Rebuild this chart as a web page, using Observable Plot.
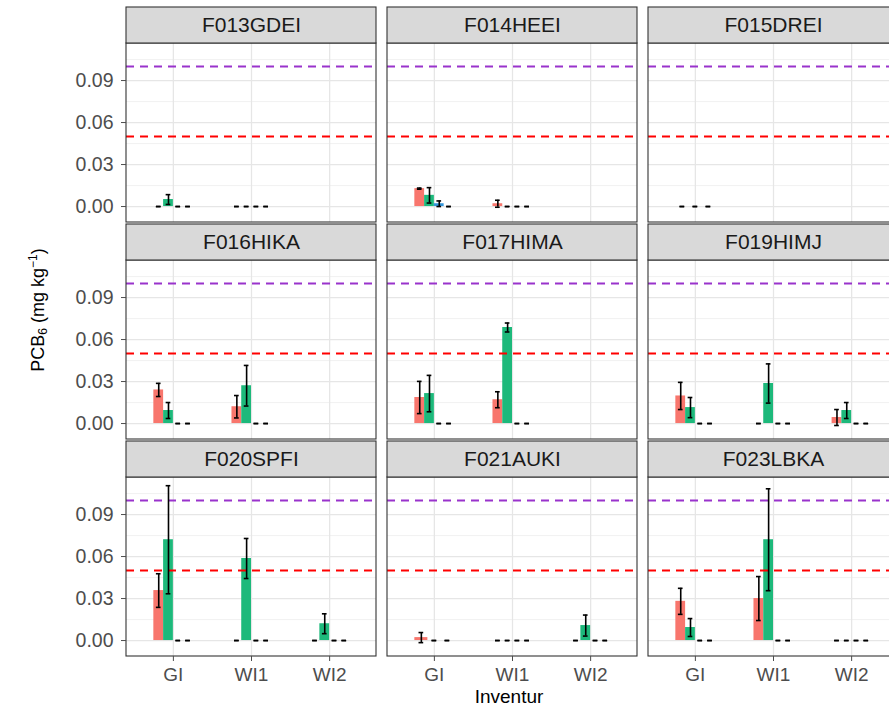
<!DOCTYPE html>
<html>
<head>
<meta charset="utf-8">
<script src="https://cdn.jsdelivr.net/npm/d3@7"></script>
<script src="https://cdn.jsdelivr.net/npm/@observablehq/plot@0.6"></script>
<style>
  html, body { margin: 0; padding: 0; background: #fff; }
  body { width: 889px; height: 712px; overflow: hidden; position: relative; font-family: "Liberation Sans", Arial, sans-serif; }
  #chart { position: absolute; left: 0; top: 0; width: 910px; }
  #chart svg { max-width: none !important; }
  #ytitle { position: absolute; left: 38px; top: 310px; transform: translate(-50%, -50%) rotate(-90deg); font-size: 18px; color: #000; white-space: nowrap; }
  #ytitle sub { font-size: 12px; vertical-align: -3px; }
  #ytitle sup { font-size: 12px; vertical-align: 7px; }
  #xtitle { position: absolute; left: 509px; top: 697px; transform: translate(-50%, -50%); font-size: 19px; color: #000; white-space: nowrap; }
</style>
</head>
<body>
<div id="chart"></div>
<div id="ytitle">PCB<sub>6</sub> (mg kg<sup>−1</sup>)</div>
<div id="xtitle">Inventur</div>
<script>
// ---- data ----
const panels = ["F013GDEI", "F014HEEI", "F015DREI", "F016HIKA", "F017HIMA", "F019HIMJ", "F020SPFI", "F021AUKI", "F023LBKA"];
const inventur = ["GI", "WI1", "WI2"];
const groups = ["Gruppe 1", "Gruppe 2", "Gruppe 3", "Gruppe 4"];
const groupColors = ["#F8766D", "#1DB97B", "#3396DB", "#B565E0"];
const yTicks = [0, 0.03, 0.06, 0.09];
const yMinorTicks = [0.015, 0.045, 0.075, 0.105];
const thresholds = [0.05, 0.1];
const thresholdColors = ["#FF0000", "#9933CC"];

// values per panel (rows) x inventur GI, WI1, WI2 ; null = no data
const meanG1 = [
  0, 0, null,            // F013GDEI
  0.0128, 0.002, null,   // F014HEEI
  0, null, null,         // F015DREI
  0.024, 0.012, null,    // F016HIKA
  0.0186, 0.017, null,   // F017HIMA
  0.0197, 0, 0.0043,     // F019HIMJ
  0.0357, 0, 0,          // F020SPFI
  0.0021, 0, 0,          // F021AUKI
  0.028, 0.03, 0         // F023LBKA
];
const sdG1 = [
  0, 0, null,
  0.0004, 0.0025, null,
  0, null, null,
  0.0047, 0.008, null,
  0.0115, 0.0057, null,
  0.0097, 0, 0.0057,
  0.012, 0, 0,
  0.0036, 0, 0,
  0.0093, 0.0157, 0
];
const meanG2 = [
  0.005, 0, null,
  0.008, 0, null,
  0, null, null,
  0.0093, 0.027, null,
  0.0214, 0.0686, null,
  0.0114, 0.0286, 0.0093,
  0.072, 0.0586, 0.012,
  0, 0, 0.0107,
  0.0093, 0.072, 0
];
const sdG2 = [
  0.0035, 0, null,
  0.0055, 0, null,
  0, null, null,
  0.0057, 0.0145, null,
  0.013, 0.0032, null,
  0.0072, 0.014, 0.0057,
  0.0386, 0.0143, 0.0071,
  0, 0, 0.0075,
  0.0064, 0.0364, 0
];
const meanG3 = [
  0, 0, null,
  0.002, 0, null,
  0, null, null,
  0, 0, null,
  0, 0, null,
  0, 0, 0,
  0, 0, 0,
  0, 0, 0,
  0, 0, 0
];
const sdG3 = [
  0, 0, null,
  0.002, 0, null,
  0, null, null,
  0, 0, null,
  0, 0, null,
  0, 0, 0,
  0, 0, 0,
  0, 0, 0,
  0, 0, 0
];
const meanG4 = [
  0, 0, null,
  0, 0, null,
  null, null, null,
  0, 0, null,
  0, 0, null,
  0, 0, 0,
  0, 0, 0,
  null, 0, 0,
  0, 0, 0
];
const sdG4 = [
  0, 0, null,
  0, 0, null,
  null, null, null,
  0, 0, null,
  0, 0, null,
  0, 0, 0,
  0, 0, 0,
  null, 0, 0,
  0, 0, 0
];

// ---- layout constants (scale domains) ----
const pxPerUnit = 1400;
const yMin = -0.0114;
const panelTop = yMin + 179 / pxPerUnit;
const stripTop = yMin + 215 / pxPerUnit;
const dodgeWidth = 0.5;
const capHalf = 0.03;

// ---- build table ----
const means = [meanG1, meanG2, meanG3, meanG4];
const sds = [sdG1, sdG2, sdG3, sdG4];
const rows = [];
panels.forEach((p, pi) => {
  inventur.forEach((inv, k) => {
    const idx = pi * 3 + k;
    const present = groups.map((g, gi) => gi).filter(gi => means[gi][idx] != null);
    const n = present.length;
    present.forEach((gi, j) => {
      const x1 = k - dodgeWidth / 2 + j * dodgeWidth / n;
      const x2 = x1 + dodgeWidth / n;
      const m = means[gi][idx], s = sds[gi][idx];
      rows.push({panel: p, col: pi % 3, row: Math.floor(pi / 3), inv, group: groups[gi],
        x1, x2, xc: (x1 + x2) / 2, mean: m, lo: m - s, hi: m + s});
    });
  });
});
const strips = panels.map((p, i) => ({panel: p, col: i % 3, row: Math.floor(i / 3)}));

const chart = Plot.plot({
  width: 910,
  height: 712,
  marginLeft: 126,
  marginRight: 12,
  marginTop: 7,
  marginBottom: 56,
  style: {fontFamily: "'Liberation Sans', Arial, sans-serif", background: "white", maxWidth: "none"},
  fx: {domain: [0, 1, 2], paddingInner: 11 / 261, paddingOuter: 0, round: false, axis: null},
  fy: {domain: [0, 1, 2], paddingInner: 2 / 217, paddingOuter: 0, round: false, axis: null},
  x: {domain: [-0.6, 2.6], axis: null},
  y: {domain: [yMin, stripTop], axis: null},
  color: {domain: groups, range: groupColors},
  marks: [
    Plot.rect([0], {y1: yMin, y2: panelTop, fill: "white"}),
    Plot.ruleY(yMinorTicks, {stroke: "#EDEDED", strokeWidth: 0.7}),
    Plot.ruleY(yTicks, {stroke: "#E6E6E6", strokeWidth: 1.3}),
    Plot.ruleX([0, 1, 2], {y1: yMin, y2: panelTop, stroke: "#E6E6E6", strokeWidth: 1.3}),
    Plot.rectY(rows, {fx: "col", fy: "row", x1: "x1", x2: "x2", y: "mean", fill: "group"}),
    Plot.ruleY(thresholds, {stroke: (d, i) => thresholdColors[i], strokeWidth: 2, strokeDasharray: "8,6"}),
    Plot.ruleX(rows, {fx: "col", fy: "row", x: "xc", y1: "lo", y2: "hi", stroke: "black", strokeWidth: 1.6}),
    Plot.ruleY(rows, {fx: "col", fy: "row", x1: d => d.xc - capHalf, x2: d => d.xc + capHalf, y: "hi", stroke: "black", strokeWidth: 1.6}),
    Plot.ruleY(rows, {fx: "col", fy: "row", x1: d => d.xc - capHalf, x2: d => d.xc + capHalf, y: "lo", stroke: "black", strokeWidth: 1.6}),
    Plot.rect([0], {y1: yMin, y2: panelTop, fill: "none", stroke: "#333333", strokeWidth: 1.1}),
    Plot.rect([0], {y1: panelTop, y2: stripTop, fill: "#D9D9D9", stroke: "#333333", strokeWidth: 1.1}),
    Plot.text(strips, {fx: "col", fy: "row", x: 1, y: (panelTop + stripTop) / 2, text: "panel", fontSize: 21, fill: "#1A1A1A", lineAnchor: "middle"}),
    Plot.axisY(yTicks, {tickFormat: d3.format(".2f"), tickSize: 5, tickPadding: 8, fontSize: 19.5, color: "#4D4D4D", label: null}),
    Plot.axisX([0, 1, 2], {tickFormat: i => inventur[i], tickSize: 5, tickPadding: 6, fontSize: 19, color: "#4D4D4D", label: null})
  ]
});
document.getElementById("chart").appendChild(chart);
</script>
</body>
</html>
